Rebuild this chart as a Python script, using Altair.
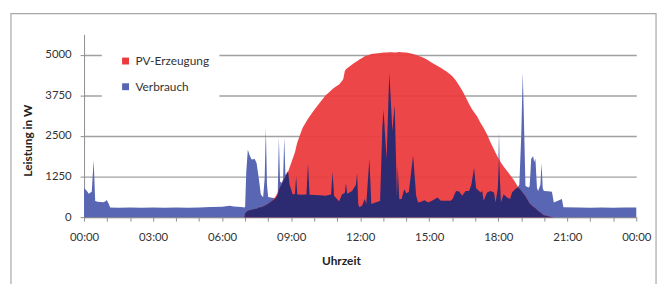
import altair as alt
import pandas as pd

times = ["00:00","00:08","00:12","00:20","00:25","00:29","00:35","00:50","00:55","00:59",
         "01:04","01:08","01:30","02:00","02:30","03:00","03:30","04:00","04:30","05:00",
         "05:30","06:00","06:20","06:30","06:50","06:58","07:00","07:03","07:07","07:12",
         "07:17","07:25","07:30","07:36","07:41","07:47","07:51","07:54","07:57","08:00",
         "08:10","08:20","08:25","08:28","08:31","08:35","08:39","08:42","08:45","08:48",
         "08:52","08:56","09:04","09:10","09:13","09:16","09:30","09:40","09:44","09:48",
         "10:00","10:13","10:30","10:44","10:48","10:52","11:05","11:13","11:16","11:20",
         "11:23","11:26","11:39","11:49","11:52","11:55","11:58","12:05","12:12","12:16",
         "12:24","12:29","12:40","12:52","12:58","13:01","13:05","13:09","13:16","13:24",
         "13:30","13:33","13:36","13:38","13:42","13:48","13:55","14:00","14:07","14:18",
         "14:26","14:31","14:39","14:48","14:57","15:06","15:22","15:30","15:45","15:56",
         "16:01","16:10","16:18","16:26","16:35","16:44","16:50","16:57","17:02","17:05",
         "17:14","17:18","17:22","17:31","17:40","17:49","17:53","17:59","18:02","18:05",
         "18:07","18:14","18:23","18:31","18:36","18:44","18:50","18:55","19:00","19:04",
         "19:08","19:11","19:19","19:22","19:26","19:31","19:34","19:37","19:41","19:44",
         "19:50","19:53","19:56","19:59","20:10","20:20","20:25","20:31","20:43","20:46",
         "20:50","21:30","22:00","22:30","23:00","23:30","24:00"]

verbrauch = [900,800,720,780,1750,500,470,460,480,530,
             420,300,290,300,290,300,290,300,290,300,
             310,320,350,330,310,300,320,1400,2070,1900,
             1770,1790,1660,1160,700,610,1200,2750,1000,620,
             600,580,700,2450,1100,1050,1150,2450,1300,1350,
             1420,1000,700,720,1260,700,690,700,1650,690,
             680,676,655,700,1400,655,480,706,720,750,
             1040,720,807,1000,1360,400,303,353,555,403,
             1800,403,450,500,2800,3300,2500,1800,4450,2650,
             3450,2000,600,1550,550,560,858,737,770,1900,
             655,454,470,520,450,500,606,503,503,503,
             555,807,790,655,807,807,1000,1515,900,858,
             757,807,503,757,807,757,454,900,2625,1000,
             454,706,606,555,757,858,909,1000,2500,4450,
             2500,960,909,950,1800,1870,1700,1800,900,807,
             1000,1666,900,807,800,780,454,480,540,555,
             303,300,290,300,290,300,300]

pv = [0,0,0,0,0,0,0,0,0,0,
      0,0,0,0,0,0,0,0,0,0,
      0,0,0,0,0,0,120,160,200,215,
      230,250,260,295,305,330,350,370,390,410,
      500,650,760,840,920,1000,1110,1180,1250,1310,
      1400,1530,1800,2000,2150,2300,2750,2950,3030,3100,
      3300,3500,3750,3900,3940,3980,4080,4200,4250,4500,
      4550,4580,4700,4780,4800,4830,4850,4900,4950,4970,
      5000,5020,5040,5055,5060,5065,5070,5070,5075,5075,
      5070,5070,5075,5075,5080,5075,5070,5065,5050,5020,
      4990,4970,4940,4890,4830,4760,4650,4600,4480,4380,
      4330,4200,4050,3900,3700,3480,3350,3230,3150,3100,
      2900,2820,2740,2540,2300,2080,1980,1840,1780,1720,
      1680,1560,1420,1300,1220,1080,960,880,810,750,
      690,640,470,420,370,320,300,275,230,190,
      140,110,80,60,25,5,0,0,0,0,
      0,0,0,0,0,0,0]

y_ticks = [0, 1250, 2500, 3750, 5000]
x_ticks = list(range(25))
series_names = ["PV-Erzeugung", "Verbrauch"]


def to_hours(t):
    hh, mm = t.split(":")
    return int(hh) + int(mm) / 60.0


df = pd.DataFrame({"h": [to_hours(t) for t in times], "pv": pv, "verbrauch": verbrauch})

RED = "#EC3A3E"
BLUE = "#5866B3"
NAVY = "#2C2B71"
FONT = "Lato"

x_enc = alt.X(
    "h:Q",
    scale=alt.Scale(domain=[0, 24], nice=False, zero=False),
    axis=alt.Axis(
        values=x_ticks,
        labelExpr="datum.value % 3 == 0 ? ((datum.value % 24) < 10 ? '0' : '') + (datum.value % 24) + ':00' : ''",
        grid=False,
        domainColor="#8C8C8C",
        tickColor="#8C8C8C",
        tickSize=4,
        labelFont=FONT,
        labelFontSize=11.5,
        labelColor="#333333",
        labelPadding=11,
        labelOverlap=False,
        labelFlush=False,
        title="Uhrzeit",
        titleFont=FONT,
        titleFontSize=12,
        titleFontWeight="bold",
        titleColor="#222222",
        titleX=260,
        titleY=44,
        titleBaseline="middle",
    ),
)


def y_enc(field):
    return alt.Y(
        field,
        scale=alt.Scale(domain=[0, 5625], nice=False),
        axis=alt.Axis(
            values=y_ticks,
            format="d",
            grid=True,
            gridColor="#A0A0A0",
            gridWidth=1.5,
            domainColor="#8C8C8C",
            tickColor="#8C8C8C",
            tickSize=4,
            labelFont=FONT,
            labelFontSize=11.5,
            labelColor="#333333",
            labelPadding=9,
            title="Leistung in W",
            titleFont=FONT,
            titleFontSize=12,
            titleFontWeight="bold",
            titleColor="#222222",
            titleX=-57,
            titleY=107,
            titleBaseline="middle",
        ),
    )


color_scale = alt.Scale(domain=series_names, range=[RED, BLUE])
legend = alt.Legend(
    title=None,
    orient="none",
    legendX=18,
    legendY=11,
    fillColor="white",
    padding=10,
    symbolOffset=8,
    symbolType="square",
    symbolSize=49,
    symbolStrokeWidth=0,
    symbolOpacity=1,
    labelFont=FONT,
    labelFontSize=12,
    labelColor="#333333",
    labelOffset=4,
    rowPadding=14,
)
color_enc = alt.Color("serie:N", scale=color_scale, legend=legend)

base = alt.Chart(df)

blue_area = base.transform_calculate(serie="'Verbrauch'").mark_area(opacity=1).encode(
    x=x_enc,
    y=y_enc("verbrauch:Q"),
    color=color_enc,
)

red_area = base.transform_calculate(serie="'PV-Erzeugung'").mark_area(opacity=0.94).encode(
    x=x_enc,
    y=y_enc("pv:Q"),
    color=color_enc,
)

navy_area = base.transform_calculate(
    m="min(datum.pv, datum.verbrauch)"
).mark_area(color=NAVY, opacity=1).encode(
    x=x_enc,
    y=y_enc("m:Q"),
)

frame = alt.Chart(pd.DataFrame({"a": [0]})).mark_rect(
    filled=False, stroke="#A8A8A8", strokeWidth=1.2
).encode(
    x=alt.value(-74), x2=alt.value(579), y=alt.value(-21), y2=alt.value(300)
)

chart = alt.layer(frame, blue_area, red_area, navy_area).properties(
    width=559,
    height=185,
    padding={"left": 77, "top": 25, "right": 23, "bottom": 66},
    autosize=alt.AutoSizeParams(type="none"),
    background="white",
).configure_view(strokeWidth=0)

chart.save("out.html", embed_options={"renderer": "svg", "actions": False})
